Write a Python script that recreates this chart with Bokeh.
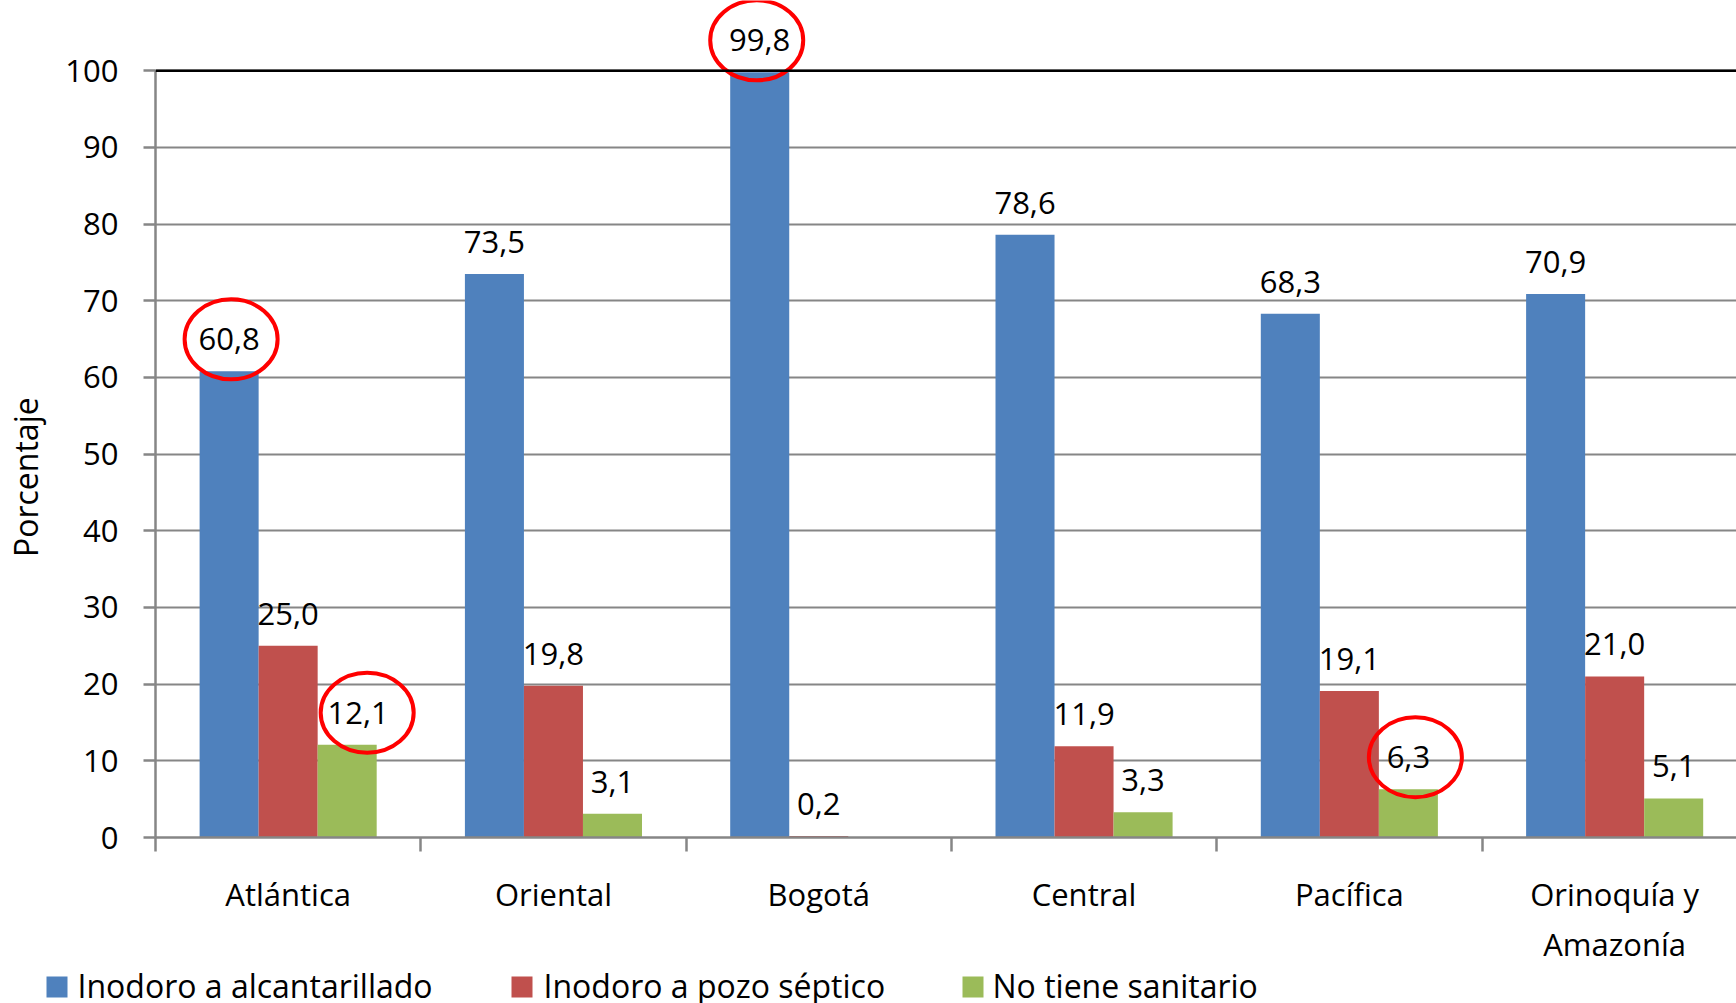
from bokeh.plotting import figure
from bokeh.layouts import column
from bokeh.models import ColumnDataSource, FixedTicker, Span, Range1d
from bokeh.core.properties import value
from bokeh.embed import file_html
from bokeh.resources import INLINE

# ---------------- data ----------------
regions = ["Atlántica", "Oriental", "Bogotá", "Central", "Pacífica", "Orinoquía y\nAmazonía"]
alcantarillado = [60.8, 73.5, 99.8, 78.6, 68.3, 70.9]
pozo_septico = [25.0, 19.8, 0.2, 11.9, 19.1, 21.0]
no_tiene = [12.1, 3.1, None, 3.3, 6.3, 5.1]
series_names = ["Inodoro a alcantarillado", "Inodoro a pozo séptico", "No tiene sanitario"]
y_ticks = [0, 10, 20, 30, 40, 50, 60, 70, 80, 90, 100]
y_label = "Porcentaje"
# highlighted data labels (region index, series index)
highlighted = [(0, 0), (2, 0), (0, 2), (4, 2)]

# ---------------- style / layout ----------------
FONT = "Open Sans"
COLORS = ["#4F81BD", "#C0504D", "#9BBB59"]
GRID = "#868686"
W, H = 1736, 1003
H_LEG = 33
H_MAIN = H - H_LEG
LEFT = 155
FRAME_BOTTOM = 837
BOTTOM = H_MAIN - FRAME_BOTTOM
FRAME_W, FRAME_H = W - LEFT, FRAME_BOTTOM
CAT_PX = 265.3
Y_PX = 7.667
X_END = FRAME_W / CAT_PX
Y_END = FRAME_H / Y_PX
BAR_W = 0.2225
OFFSETS = [-BAR_W, 0.0, BAR_W]
LABEL_DY = 32  # px above bar top
label_nudge = {(0, 2): 11}   # px shift of a label to the right
ellipse_nudge = {(0, 0): 2, (2, 0): -3, (0, 2): 20, (4, 2): 7}
NBSP = "\u00a0"
# legend strip layout (px)
LEG_SQ_X = [46, 511, 962]
LEG_TX_X = [77, 543, 992]
LEG_SQ = 21
LEG_SQ_BOTTOM = 27
LEG_TEXT_Y = 15

p = figure(width=W, height=H_MAIN, output_backend="svg", toolbar_location=None,
           x_range=(0, X_END), y_range=(0, Y_END),
           min_border_left=LEFT, min_border_bottom=BOTTOM,
           min_border_top=0, min_border_right=0)
p.frame_align = False
p.outline_line_color = None
p.background_fill_color = "white"
p.border_fill_color = "white"

series = [alcantarillado, pozo_septico, no_tiene]
centers = [i + 0.5 for i in range(len(regions))]
for s, vals in enumerate(series):
    xs = [c + OFFSETS[s] for c in centers]
    tops = [float("nan") if v is None else v for v in vals]
    src = ColumnDataSource(dict(x=xs, top=tops))
    p.vbar(x="x", top="top", width=BAR_W, bottom=0, source=src,
           fill_color=COLORS[s], line_color=None)
    lx, ly, lt, ldx = [], [], [], []
    for i, v in enumerate(vals):
        if v is None:
            continue
        lx.append(xs[i]); ly.append(v)
        lt.append(f"{v:.1f}".replace(".", ","))
        ldx.append(label_nudge.get((i, s), 0))
    lsrc = ColumnDataSource(dict(x=lx, y=ly, text=lt, dx=ldx))
    p.text(x="x", y="y", text="text", source=lsrc, x_offset="dx", y_offset=-LABEL_DY,
           text_align="center", text_baseline="middle",
           text_font=value(FONT), text_font_size="31px", text_color="black")

# red ellipses around highlighted labels
ex, ey = [], []
for (i, s) in highlighted:
    v = series[s][i]
    ex.append(centers[i] + OFFSETS[s] + ellipse_nudge.get((i, s), 0) / CAT_PX)
    ey.append(v + LABEL_DY / Y_PX)
p.ellipse(x=ex, y=ey, width=93, height=80, width_units="screen", height_units="screen",
          fill_color=None, line_color="#FF0000", line_width=4)

# top line at 100
p.add_layout(Span(location=100, dimension="width", line_color="black", line_width=2.5))

# grid
p.xgrid.visible = False
p.ygrid.ticker = FixedTicker(ticks=y_ticks)
p.ygrid.grid_line_color = GRID
p.ygrid.grid_line_width = 2

# y axis
ya = p.yaxis[0]
ya.ticker = FixedTicker(ticks=y_ticks)
ya.bounds = (0, 100)
ya.axis_line_color = GRID
ya.axis_line_width = 2.5
ya.major_tick_line_color = GRID
ya.major_tick_line_width = 2.5
ya.major_tick_out = 12
ya.major_tick_in = 0
ya.minor_tick_line_color = None
ya.major_label_standoff = 25
ya.major_label_text_font = FONT
ya.major_label_text_font_size = "31px"
ya.major_label_text_color = "black"
ya.axis_label = y_label + NBSP * 14
ya.axis_label_text_font = FONT
ya.axis_label_text_font_size = "32px"
ya.axis_label_text_font_style = "normal"
ya.axis_label_text_color = "black"
ya.axis_label_standoff = 15

# x axis
xa = p.xaxis[0]
xa.ticker = FixedTicker(ticks=centers, minor_ticks=list(range(len(regions) + 1)))
xa.major_label_overrides = {c: name for c, name in zip(centers, regions)}
xa.axis_line_color = GRID
xa.axis_line_width = 2.5
xa.major_tick_line_color = None
xa.major_tick_out = 0
xa.major_tick_in = 0
xa.minor_tick_line_color = GRID
xa.minor_tick_line_width = 2.5
xa.minor_tick_out = 14
xa.minor_tick_in = 0
xa.major_label_standoff = 21
xa.major_label_text_font = FONT
xa.major_label_text_font_size = "31px"
xa.major_label_text_color = "black"

# legend strip (separate figure, pixel coordinates, y downwards)
leg = figure(width=W, height=H_LEG, output_backend="svg", toolbar_location=None,
             x_range=Range1d(0, W), y_range=Range1d(H_LEG, 0),
             x_axis_location=None, y_axis_location=None, min_border=0)
leg.frame_align = False
leg.outline_line_color = None
leg.xgrid.visible = False
leg.ygrid.visible = False
leg.background_fill_color = "white"
leg.border_fill_color = "white"
leg.quad(left=LEG_SQ_X, right=[x + LEG_SQ for x in LEG_SQ_X],
         top=[LEG_SQ_BOTTOM - LEG_SQ] * 3, bottom=[LEG_SQ_BOTTOM] * 3,
         fill_color=COLORS, line_color=None)
leg.text(x=LEG_TX_X, y=[LEG_TEXT_Y] * 3, text=series_names,
         text_align="left", text_baseline="alphabetic",
         text_font=value(FONT), text_font_size="32px", text_color="black")

layout = column(p, leg, spacing=0)
open("out.html", "w").write(file_html(layout, INLINE))
